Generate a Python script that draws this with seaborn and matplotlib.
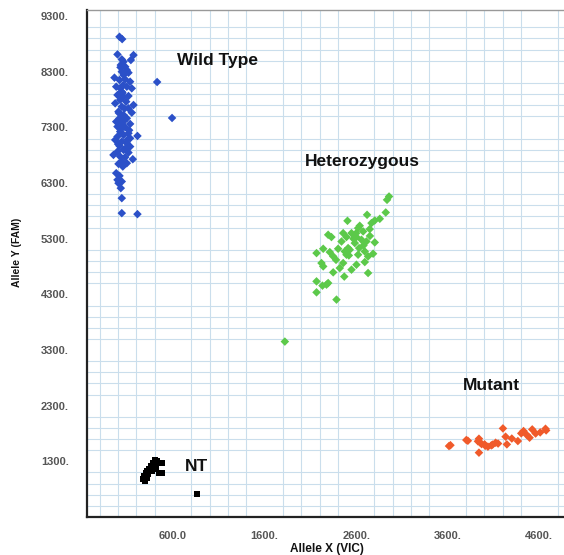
import pandas as pd
import seaborn as sns
import numpy as np
import matplotlib.pyplot as plt

# allelic discrimination plot
wt_x = [15, 44, -7, 168, 139, 40, 59, 29, 77, 95, 40, 113, 59, -40, 15, 77, 131,
        -21, 22, 95, 149, 40, -7, 59, 113, 22, 88, 168, -32, 40, 113, 149, 4, 59,
        15, 95, -21, 40, 131, -7, 77, 22, 113, 59, -7, 131, 211, -32, 40, 95, 15,
        131, 59, -7, 113, -51, 22, 77, 160, 40, 4, 95, 51, -21, 15, -7, 40, 4, 29,
        40, 40, 211, 426, 589, 66, 33, 102, 8, 48, 84, 26, 70, 120, 0, 55]
wt_y = [8929, 8887, 8612, 8600, 8511, 8523, 8481, 8421, 8391, 8331, 8301, 8283,
        8241, 8194, 8152, 8164, 8122, 8032, 8002, 8032, 8002, 7943, 7883, 7853,
        7865, 7793, 7763, 7703, 7733, 7673, 7644, 7566, 7584, 7524, 7464, 7464,
        7404, 7375, 7363, 7315, 7303, 7225, 7195, 7165, 7135, 7105, 7147, 7076,
        7046, 7016, 6968, 6956, 6896, 6866, 6848, 6806, 6777, 6765, 6729, 6687,
        6645, 6657, 6597, 6478, 6430, 6358, 6328, 6298, 6209, 6029, 5760, 5742,
        8116, 7470, 7420, 7270, 7080, 7560, 7920, 6930, 8380, 7640, 7250, 7000, 8060]

het_x = [2959, 2937, 2923, 2719, 2505, 2858, 2803, 2767, 2639, 2621, 2748, 2676,
         2458, 2549, 2294, 2330, 2494, 2603, 2658, 2712, 2803, 2585, 2240, 2403,
         2512, 2632, 2476, 2694, 2167, 2312, 2530, 2349, 2494, 2621, 2785, 2730,
         2221, 2458, 2603, 2694, 2240, 2421, 2549, 2349, 2730, 2167, 2294, 2232,
         2276, 2167, 2385, 1821, 2570, 2680, 2440, 2600, 2520, 2380, 2750, 2470]
het_y = [6059, 5999, 5772, 5730, 5622, 5658, 5628, 5581, 5533, 5491, 5473, 5431,
         5401, 5401, 5371, 5330, 5330, 5330, 5282, 5252, 5234, 5222, 5120, 5120,
         5132, 5132, 5072, 5072, 5042, 5060, 5102, 4983, 5013, 5013, 5031, 4983,
         4863, 4863, 4833, 4881, 4803, 4773, 4744, 4696, 4684, 4534, 4504, 4457,
         4475, 4337, 4206, 3452, 5300, 5180, 5250, 5400, 5000, 4920, 5350, 4620]

mut_x = [3614, 3803, 3941, 3956, 3941, 4003, 4039, 4076, 4123, 4203, 4232, 4246,
         4366, 4403, 4428, 4494, 4523, 4668, 4675, 3630, 3820, 3930, 3970, 4010,
         4090, 4150, 4300, 4460, 4560, 4610]
mut_y = [1575, 1683, 1707, 1635, 1456, 1605, 1564, 1587, 1635, 1892, 1743, 1605,
         1665, 1803, 1845, 1725, 1874, 1886, 1856, 1590, 1670, 1660, 1610, 1580,
         1600, 1620, 1710, 1780, 1800, 1820]

nt_x = [269, 284, 306, 320, 342, 356, 378, 400, 422, 451, 476, 331, 367, 386,
        295, 451, 476, 415, 313, 865]
nt_y = [977, 1037, 1085, 1127, 1168, 1216, 1276, 1324, 1306, 1276, 1264, 1067,
        1127, 1157, 947, 1097, 1085, 1186, 1007, 708]

groups = ['Wild Type', 'Heterozygous', 'Mutant', 'NT']
colors = {'Wild Type': '#2b50c8', 'Heterozygous': '#5cc94a',
          'Mutant': '#f05a2a', 'NT': '#000000'}
labels_pos = {'Wild Type': (640, 8510), 'Heterozygous': (2040, 6690),
              'Mutant': (3770, 2670), 'NT': (730, 1200)}

df = pd.concat([
    pd.DataFrame({'x': wt_x, 'y': wt_y, 'group': 'Wild Type'}),
    pd.DataFrame({'x': het_x, 'y': het_y, 'group': 'Heterozygous'}),
    pd.DataFrame({'x': mut_x, 'y': mut_y, 'group': 'Mutant'}),
], ignore_index=True)
df_nt = pd.DataFrame({'x': nt_x, 'y': nt_y, 'group': 'NT'})

sns.set_style('white')
plt.rcParams['font.family'] = ['Liberation Sans', 'DejaVu Sans']

fig = plt.figure(figsize=(5.64, 5.55), dpi=100)
ax = fig.add_axes([87 / 564, 38 / 555, 1 - 87 / 564, 507 / 555])

grid_c = '#cadeec'
ax.set_xticks(np.arange(-200, 4801, 200), minor=True)
ax.set_yticks(np.arange(300, 9301, 200), minor=True)
ax.grid(True, which='minor', color=grid_c, linewidth=0.8)
ax.set_axisbelow(True)

sns.scatterplot(data=df, x='x', y='y', hue='group', palette=colors, marker='D',
                s=19, edgecolor='none', legend=False, ax=ax)
sns.scatterplot(data=df_nt, x='x', y='y', color='black', marker='s',
                s=18, edgecolor='none', legend=False, ax=ax)

for g in groups:
    ax.text(*labels_pos[g], g, fontsize=12.5, fontweight='bold', va='center',
            color='#111111')

ax.set_xlim(-340, 4870)
ax.set_ylim(300, 9410)
ax.set_xticks([600, 1600, 2600, 3600, 4600])
ax.set_xticklabels(['600.0', '1600.', '2600.', '3600.', '4600.'])
ax.set_yticks(np.arange(1300, 9301, 1000))
ax.set_yticklabels([f'{v}.' for v in range(1300, 9301, 1000)])
ax.tick_params(which='both', length=7, color=grid_c, width=0.8,
               labelsize=8, labelcolor='#555555', pad=6)
ax.tick_params(axis='x', which='both', length=6, pad=4)
for lab in ax.get_xticklabels() + ax.get_yticklabels():
    lab.set_fontweight('bold')

ax.spines['right'].set_visible(False)
ax.spines['top'].set_color('#999999')
ax.spines['top'].set_linewidth(1)
ax.spines['left'].set_color('#222222')
ax.spines['left'].set_linewidth(1.6)
ax.spines['bottom'].set_color('#222222')
ax.spines['bottom'].set_linewidth(1.6)
ax.set_xlabel('')
ax.set_ylabel('')

fig.text(327 / 564, 1 - 549 / 555, 'Allele X (VIC)', fontsize=8.5, fontweight='bold',
         ha='center', va='center', color='#111111')
fig.text(17 / 564, 1 - 252 / 555, 'Allele Y (FAM)', fontsize=7.5, fontweight='bold',
         ha='center', va='center', rotation=90, color='#111111')

fig.savefig('out.png', dpi=100)
